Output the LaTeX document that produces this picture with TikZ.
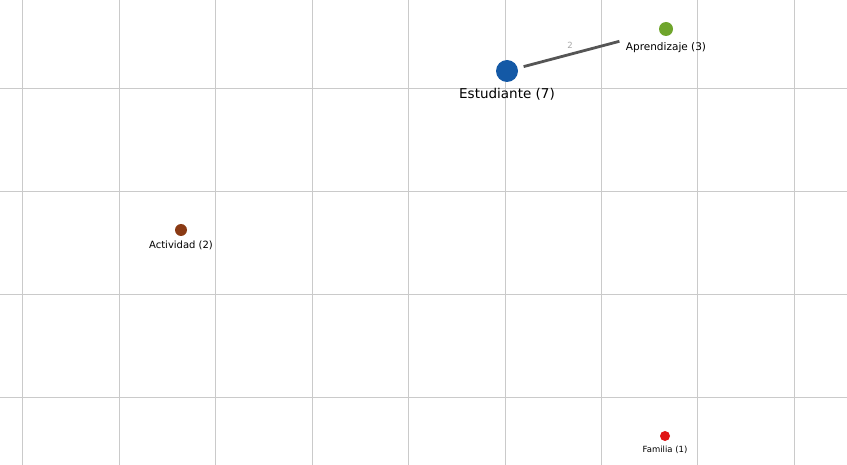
\documentclass[tikz,border=0pt]{standalone}
\usepackage{fontspec}
\setmainfont{DejaVu Sans}
\usepackage{tikz}
\usetikzlibrary{positioning}

\definecolor{gridgray}{HTML}{CACACA}
\definecolor{estblue}{HTML}{1459A6}
\definecolor{aprgreen}{HTML}{6FA52C}
\definecolor{actbrown}{HTML}{8A3A14}
\definecolor{famred}{HTML}{E01515}
\definecolor{edgegray}{HTML}{555555}

\tikzset{
    vertex/.style={circle, fill, inner sep=0pt},
    vlabel/.style={inner sep=0pt, text=black},
}

\begin{document}
\begin{tikzpicture}[x=1pt, y=-1pt]
    \useasboundingbox (0,0) rectangle (847,465);
    % grid
    \foreach \gx in {22,119,215,312,408,505,601,697,794}
        \draw[gridgray, line width=1pt] (\gx,0) -- (\gx,465);
    \foreach \gy in {89,192,295,397}
        \draw[gridgray, line width=1pt] (0,\gy) -- (847,\gy);

    \node (estudiante) [vertex, estblue, minimum size=22pt] at (507,71) {};
    \node (aprendizaje) [vertex, aprgreen, minimum size=14pt] at (666,29) {};
    \node (actividad) [vertex, actbrown, minimum size=12pt] at (181,230) {};
    \node (familia) [vertex, famred, minimum size=10pt] at (665,436) {};

    \node (estlbl) [vlabel, below=6pt of estudiante, font=\fontsize{13.5}{14}\selectfont] {Estudiante (7)};
    \node (aprlbl) [vlabel, below=6pt of aprendizaje, font=\fontsize{10.5}{12}\selectfont] {Aprendizaje (3)};
    \node (actlbl) [vlabel, below=5pt of actividad, font=\fontsize{10}{12}\selectfont] {Actividad (2)};
    \node (famlbl) [vlabel, below=5pt of familia, font=\fontsize{8.5}{10}\selectfont] {Familia (1)};

    \draw[edgegray, line width=2.8pt, shorten <=6pt, shorten >=41pt] (estudiante) -- node[pos=0.37, above=1pt, text=gray!70, font=\fontsize{8.5}{9}\selectfont] {2} (aprendizaje);
\end{tikzpicture}
\end{document}
